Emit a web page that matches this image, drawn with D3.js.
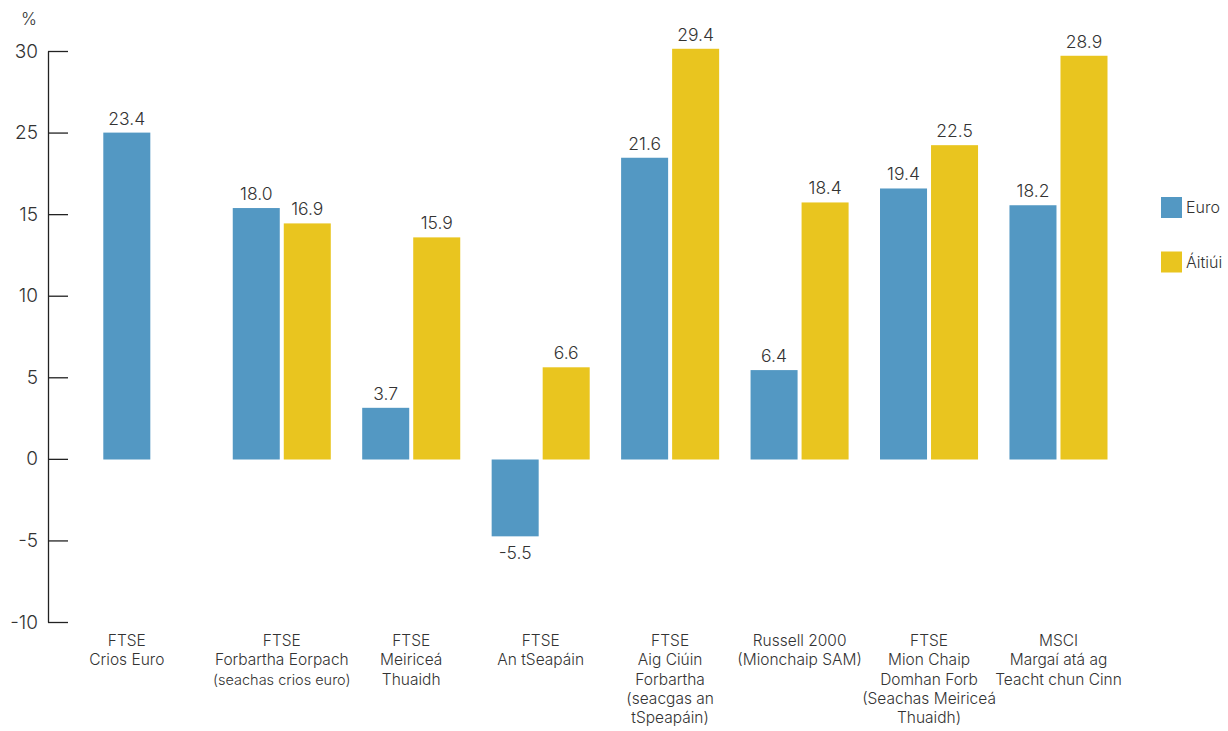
<!DOCTYPE html>
<html>
<head>
<meta charset="utf-8">
<script src="https://cdn.jsdelivr.net/npm/d3@7"></script>
<style>
  html, body { margin: 0; padding: 0; background: #fff; }
  svg { display: block; }
  text { font-family: Inter, "Liberation Sans", sans-serif; fill: #333; }
</style>
</head>
<body>
<svg id="chart" width="1228" height="731"></svg>
<script>
// ---- data ----
const categories = ["FTSE Crios Euro", "FTSE Forbartha Eorpach", "FTSE Meiriceá Thuaidh", "FTSE An tSeapáin",
  "FTSE Aig Ciúin Forbartha", "Russell 2000", "FTSE Mion Chaip Domhan Forb", "MSCI Margaí atá ag Teacht chun Cinn"];
const categoryLines = [
  ["FTSE", "Crios Euro"],
  ["FTSE", "Forbartha Eorpach", "(seachas crios euro)"],
  ["FTSE", "Meiriceá", "Thuaidh"],
  ["FTSE", "An tSeapáin"],
  ["FTSE", "Aig Ciúin", "Forbartha", "(seacgas an", "tSpeapáin)"],
  ["Russell 2000", "(Mionchaip SAM)"],
  ["FTSE", "Mion Chaip", "Domhan Forb", "(Seachas Meiriceá", "Thuaidh)"],
  ["MSCI", "Margaí atá ag", "Teacht chun Cinn"]
];
const seriesNames = ["Euro", "Áitiúi"];
const euroValues = [23.4, 18.0, 3.7, -5.5, 21.6, 6.4, 19.4, 18.2];
const localValues = [null, 16.9, 15.9, 6.6, 29.4, 18.4, 22.5, 28.9];
const yTickLabels = ["30", "25", "15", "10", "5", "0", "-5", "-10"];
const seriesColors = ["#5398c3", "#e9c51f"];

// ---- scales ----
const svg = d3.select("#chart");
const x0 = d3.scaleBand().domain(categories).range([103.3, 1107.5]).paddingInner(0.2427).paddingOuter(0);
const x1 = d3.scaleBand().domain(seriesNames).range([0, x0.bandwidth()]).paddingInner(0.0784).paddingOuter(0);
const y = d3.scaleLinear().domain([0, 30]).range([459.5, 459.5 - 30 * 13.97]);
const yAxisScale = d3.scalePoint().domain(yTickLabels).range([51, 622]);
const color = d3.scaleOrdinal().domain(seriesNames).range(seriesColors);
const fmt = v => v.toFixed(1);

// ---- axis ----
const axisG = svg.append("g").attr("transform", "translate(48,0)")
  .call(d3.axisLeft(yAxisScale).tickSizeInner(-20).tickSizeOuter(0).tickPadding(10));
axisG.select(".domain").attr("stroke", "#222").attr("stroke-width", 1.3);
axisG.selectAll(".tick line").attr("stroke", "#222").attr("stroke-width", 1.3);
axisG.selectAll(".tick text").attr("font-size", 19).attr("font-family", "Inter, 'Liberation Sans', sans-serif")
  .attr("fill", "#333").attr("font-weight", 300);

svg.append("text").attr("x", 29).attr("y", 25).attr("text-anchor", "middle")
  .attr("font-size", 17).attr("font-weight", 300).text("%");

// ---- bars ----
const rows = categories.map((c, i) => ({
  cat: c,
  lines: categoryLines[i],
  vals: [
    { key: seriesNames[0], v: euroValues[i] },
    { key: seriesNames[1], v: localValues[i] }
  ].filter(d => d.v !== null)
}));

const groups = svg.append("g").selectAll("g").data(rows).join("g")
  .attr("transform", d => `translate(${x0(d.cat)},0)`);

groups.selectAll("rect").data(d => d.vals).join("rect")
  .attr("x", d => x1(d.key))
  .attr("width", x1.bandwidth())
  .attr("y", d => y(Math.max(0, d.v)))
  .attr("height", d => Math.abs(y(d.v) - y(0)))
  .attr("fill", d => color(d.key));

groups.selectAll("text.val").data(d => d.vals).join("text")
  .attr("class", "val")
  .attr("x", d => x1(d.key) + x1.bandwidth() / 2)
  .attr("y", d => d.v >= 0 ? y(d.v) - 8 : y(d.v) + 22.5)
  .attr("text-anchor", "middle")
  .attr("font-size", 17.5)
  .attr("font-weight", 300)
  .text(d => fmt(d.v));

// ---- category labels ----
groups.each(function(d) {
  const centers = d.vals.map(v => x1(v.key) + x1.bandwidth() / 2);
  const cx = d3.mean(centers);
  const t = d3.select(this).append("text")
    .attr("text-anchor", "middle")
    .attr("font-size", 15.5)
    .attr("font-weight", 300);
  d.lines.forEach((line, j) => {
    t.append("tspan").attr("x", cx).attr("y", 646 + j * 19.3)
      .attr("font-size", line === "(seachas crios euro)" ? 14.5 : 15.5)
      .text(line);
  });
});

// ---- legend ----
const legend = svg.append("g").selectAll("g").data(seriesNames).join("g")
  .attr("transform", (d, i) => `translate(1161,${197 + i * 54.5})`);
legend.append("rect").attr("width", 21).attr("height", 21).attr("fill", d => color(d));
legend.append("text").attr("x", 25).attr("y", 16).attr("font-size", 16).attr("font-weight", 300).text(d => d);
</script>
</body>
</html>
